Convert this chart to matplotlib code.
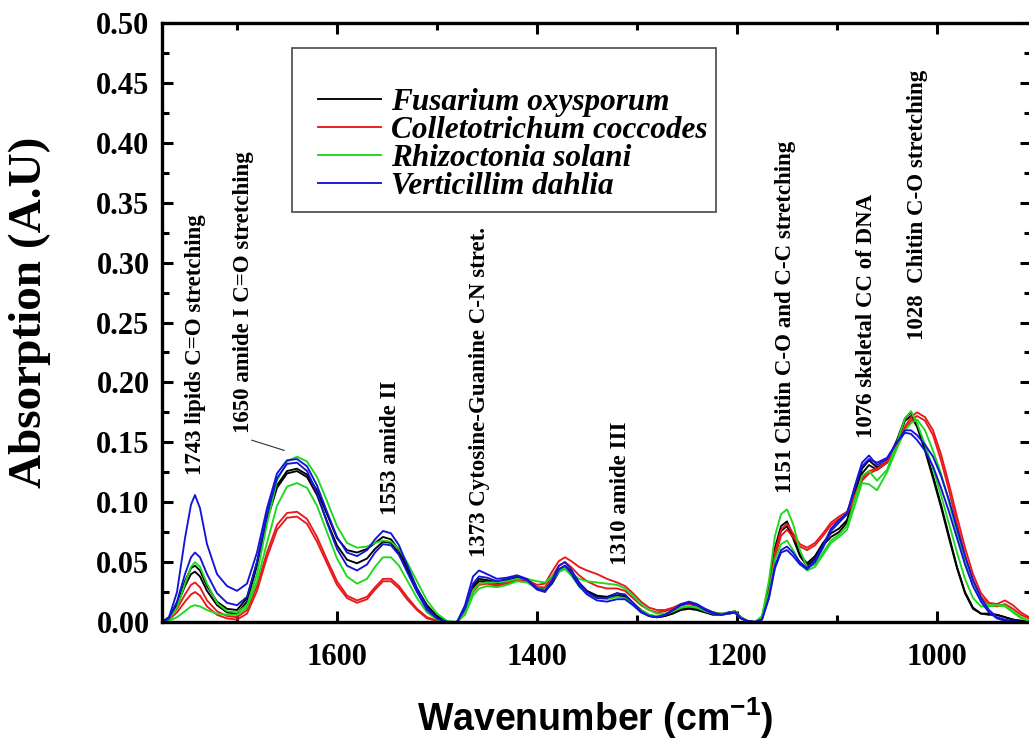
import matplotlib
matplotlib.use("Agg")
import matplotlib.pyplot as plt
from matplotlib.ticker import MultipleLocator
from matplotlib.patches import Rectangle

# ---------------- data ----------------
wavenumber = [
    1775, 1768, 1760, 1752, 1746, 1742, 1737, 1730, 1720, 1710, 1700, 1690, 1680, 1670, 1660, 1650, 1640, 1630,
    1620, 1610, 1600, 1590, 1580, 1570, 1562, 1554, 1546, 1538, 1530, 1520, 1510, 1500, 1490, 1480,
    1472, 1464, 1458, 1450, 1440, 1430, 1420, 1410, 1400, 1392, 1385, 1378, 1372, 1366, 1358, 1350, 1340, 1330,
    1320, 1312, 1304, 1296, 1288, 1280, 1272, 1264, 1256, 1248, 1240, 1232, 1224, 1216, 1208, 1202, 1196, 1190, 1182,
    1175, 1168, 1162, 1156, 1150, 1144, 1137, 1130, 1122, 1114, 1106, 1098, 1090, 1082, 1075, 1068, 1060, 1050,
    1040, 1032, 1026, 1020, 1012, 1004, 996, 988, 980, 972, 964, 956, 948, 940, 932, 924, 916, 908,
]

fusarium_1 = [
    0, .004, .016, .034, .045, .047, .043, .030, .017, .011, .010, .020, .050, .087, .114, .126, .128, .123,
    .110, .090, .070, .060, .058, .061, .066, .071, .069, .060, .046, .028, .014, .005, 0, 0,
    .010, .030, .036, .035, .033, .035, .037, .035, .029, .027, .034, .044, .047, .042, .033, .026, .022, .021,
    .024, .022, .016, .010, .006, .004, .005, .008, .011, .012, .011, .009, .007, .006, .008, .009, .004, .001, 0,
    .004, .030, .062, .080, .084, .072, .056, .049, .055, .066, .074, .078, .085, .108, .128, .135, .129, .134,
    .152, .170, .175, .165, .145, .122, .098, .072, .046, .025, .012, .007, .007, .006, .004, .002, .001, 0,
]
fusarium_2 = [
    0, .003, .014, .030, .040, .042, .038, .026, .014, .008, .007, .017, .047, .085, .112, .124, .126, .121,
    .106, .084, .064, .052, .049, .053, .061, .067, .066, .057, .043, .026, .012, .004, 0, 0,
    .009, .028, .034, .034, .032, .034, .036, .034, .028, .026, .032, .042, .045, .040, .031, .025, .021, .020,
    .022, .021, .015, .009, .005, .004, .005, .007, .010, .011, .010, .008, .006, .006, .008, .008, .003, .001, 0,
    .003, .027, .058, .076, .080, .070, .055, .047, .053, .064, .071, .075, .083, .105, .124, .131, .127, .133,
    .150, .168, .172, .163, .143, .120, .096, .070, .045, .024, .011, .007, .006, .006, .004, .002, .001, 0,
]
colletotrichum_1 = [
    0, .003, .011, .023, .031, .033, .029, .018, .009, .005, .004, .010, .030, .058, .081, .091, .092, .086,
    .071, .052, .034, .022, .018, .021, .029, .036, .036, .030, .021, .011, .004, .001, 0, 0,
    .009, .027, .032, .033, .031, .033, .036, .035, .031, .032, .042, .051, .054, .051, .046, .043, .040, .036,
    .033, .030, .024, .017, .012, .010, .010, .012, .015, .016, .014, .011, .008, .007, .007, .008, .004, .001, 0,
    .003, .026, .058, .077, .082, .074, .065, .062, .066, .074, .083, .088, .092, .106, .120, .126, .128, .134,
    .148, .163, .171, .175, .171, .160, .140, .115, .088, .062, .040, .024, .016, .015, .018, .014, .008, .004,
]
colletotrichum_2 = [
    0, .002, .008, .017, .023, .025, .022, .013, .006, .003, .002, .007, .026, .054, .077, .087, .088, .082,
    .067, .049, .031, .020, .016, .019, .027, .034, .034, .028, .019, .010, .003, .001, 0, 0,
    .008, .025, .031, .032, .030, .032, .035, .034, .029, .029, .038, .047, .050, .046, .039, .034, .030, .028,
    .028, .026, .020, .014, .010, .008, .009, .011, .014, .015, .013, .010, .008, .006, .007, .008, .003, .001, 0,
    .003, .024, .054, .072, .077, .071, .063, .060, .064, .072, .081, .086, .090, .104, .118, .124, .127, .133,
    .146, .161, .168, .172, .168, .156, .135, .110, .082, .056, .035, .021, .014, .013, .015, .011, .006, .003,
]
rhizoctonia_1 = [
    0, .002, .012, .032, .046, .050, .046, .032, .016, .009, .008, .014, .040, .082, .118, .134, .138, .134,
    .121, .101, .080, .066, .062, .063, .066, .068, .067, .061, .050, .034, .018, .007, .001, 0,
    .008, .026, .032, .033, .033, .034, .036, .036, .034, .033, .038, .044, .045, .041, .036, .034, .033, .032,
    .031, .028, .022, .015, .010, .007, .007, .009, .012, .013, .012, .010, .008, .007, .008, .009, .004, .001, 0,
    .005, .035, .072, .090, .094, .082, .060, .046, .048, .058, .068, .073, .080, .103, .122, .126, .118, .127,
    .150, .170, .176, .166, .148, .128, .106, .082, .058, .036, .020, .013, .013, .014, .013, .008, .003, .001,
]
rhizoctonia_2 = [
    0, .001, .004, .009, .013, .014, .013, .010, .007, .006, .006, .012, .034, .066, .097, .113, .116, .112,
    .097, .075, .053, .038, .032, .036, .046, .054, .054, .047, .035, .020, .008, .002, 0, 0,
    .006, .022, .028, .030, .029, .031, .034, .033, .028, .027, .034, .042, .044, .039, .030, .024, .020, .019,
    .021, .020, .015, .010, .006, .005, .006, .009, .012, .013, .012, .009, .007, .006, .007, .008, .003, .001, 0,
    .003, .024, .052, .065, .068, .060, .049, .043, .046, .056, .066, .071, .077, .098, .116, .115, .110, .125,
    .145, .160, .166, .169, .160, .143, .124, .100, .074, .050, .030, .018, .014, .014, .014, .009, .004, .001,
]
verticillium_1 = [
    0, .004, .025, .070, .098, .106, .095, .065, .040, .030, .026, .032, .058, .095, .124, .135, .136, .130,
    .114, .092, .071, .058, .055, .060, .069, .076, .074, .064, .048, .028, .012, .003, 0, 0,
    .014, .038, .043, .040, .036, .037, .039, .036, .028, .026, .035, .047, .050, .044, .033, .025, .020, .020,
    .024, .023, .016, .009, .005, .004, .006, .010, .015, .017, .015, .011, .008, .006, .008, .008, .003, .001, 0,
    .002, .020, .045, .058, .060, .055, .048, .044, .050, .062, .076, .083, .090, .114, .133, .139, .131, .136,
    .150, .158, .157, .152, .143, .130, .112, .092, .070, .048, .030, .017, .008, .003, .001, 0, 0, 0,
]
verticillium_2 = [
    0, .003, .017, .040, .054, .058, .054, .040, .024, .016, .014, .021, .050, .090, .120, .132, .133, .126,
    .108, .083, .061, .047, .043, .048, .058, .065, .064, .056, .042, .025, .010, .003, 0, 0,
    .011, .032, .038, .037, .034, .036, .038, .035, .027, .025, .033, .044, .047, .041, .030, .023, .018, .017,
    .019, .019, .014, .008, .005, .004, .006, .010, .014, .016, .014, .010, .007, .006, .007, .008, .003, .001, 0,
    .002, .021, .047, .060, .063, .058, .050, .045, .052, .064, .078, .085, .091, .112, .130, .136, .133, .137,
    .150, .160, .160, .156, .148, .138, .122, .102, .078, .055, .035, .020, .010, .004, .002, .001, 0, 0,
]

species = ["Fusarium oxysporum", "Colletotrichum coccodes", "Rhizoctonia solani", "Verticillim dahlia"]
species_colors = ["#000000", "#e8191c", "#1ed81e", "#1414d8"]
replicates = [
    [fusarium_1, fusarium_2],
    [colletotrichum_1, colletotrichum_2],
    [rhizoctonia_1, rhizoctonia_2],
    [verticillium_1, verticillium_2],
]

band_labels = [
    "1743 lipids C=O stretching",
    "1650 amide I C=O stretching",
    "1553 amide II",
    "1373 Cytosine-Guanine C-N stret.",
    "1310 amide III",
    "1151 Chitin C-O and C-C stretching",
    "1076 skeletal CC of DNA",
    "1028  Chitin C-O stretching",
]
band_label_x = [1742, 1694, 1547, 1457, 1317, 1152, 1070, 1020]
band_label_y = [0.1225, 0.1575, 0.089, 0.054, 0.0475, 0.108, 0.154, 0.235]

x_ticks = [1600, 1400, 1200, 1000]
y_ticks = [0.00, 0.05, 0.10, 0.15, 0.20, 0.25, 0.30, 0.35, 0.40, 0.45, 0.50]

for s in replicates:
    for r in s:
        assert len(r) == len(wavenumber)

# ---------------- figure ----------------
plt.rcParams["mathtext.fontset"] = "custom"
plt.rcParams["mathtext.bf"] = "Liberation Sans:bold"
plt.rcParams["mathtext.rm"] = "Liberation Sans:bold"
plt.rcParams["mathtext.default"] = "bf"

W, H = 1029, 740
fig = plt.figure(figsize=(W / 100, H / 100), dpi=100)
left_px, right_px, top_px, bottom_px = 162, 1031, 23, 622
ax = fig.add_axes([left_px / W, (H - bottom_px) / H, (right_px - left_px) / W, (bottom_px - top_px) / H])

for name, color, reps in zip(species, species_colors, replicates):
    for i, r in enumerate(reps):
        ax.plot(wavenumber, r, color=color, lw=1.35, label=name if i == 0 else None,
                solid_joinstyle="round")

ax.set_xlim(1775, 906)
ax.set_ylim(0, 0.5)
ax.set_xticks(x_ticks)
ax.xaxis.set_minor_locator(MultipleLocator(100))
ax.set_yticks(y_ticks)
ax.yaxis.set_minor_locator(MultipleLocator(0.025))
ax.set_yticklabels([f"{v:.2f}" for v in y_ticks])

for sp in ax.spines.values():
    sp.set_linewidth(2.4)
ax.tick_params(which="both", direction="in", top=True, right=True, width=2.2)
ax.tick_params(which="major", length=8)
ax.tick_params(which="minor", length=5)
ax.tick_params(axis="y", which="major", pad=9)
ax.tick_params(axis="x", which="major", pad=15)
for lab in ax.get_xticklabels() + ax.get_yticklabels():
    lab.set_fontfamily("Liberation Serif")
    lab.set_fontweight("bold")
    lab.set_fontsize(22)

fig.text(30 / W, 1 - 312 / H, "Absorption (A.U)", rotation=90, ha="center", va="center",
         fontfamily="Liberation Serif", fontweight="bold", fontsize=34)
fig.text(595 / W, 1 - 718 / H, r"Wavenumber (cm$^{-1}$)", ha="center", va="center",
         fontfamily="Liberation Sans", fontweight="bold", fontsize=27)

for txt, bx, by in zip(band_labels, band_label_x, band_label_y):
    ax.text(bx, by, txt, rotation=90, ha="center", va="bottom",
            fontfamily="Liberation Serif", fontweight="bold", fontsize=16.5)
ax.annotate("", xy=(1650, 0.1425), xytext=(1688, 0.1525),
            arrowprops=dict(arrowstyle="-", lw=0.8, color="#333333"))

# legend: frameless entries plus a separate box matching the reference frame
leg = ax.legend(loc="upper left",
                bbox_to_anchor=(318 / W, 1 - 88 / H), bbox_transform=fig.transFigure,
                prop={"family": "Liberation Serif", "weight": "bold", "style": "italic", "size": 22.5},
                handlelength=2.0, handletextpad=0.35, labelspacing=-0.03,
                borderpad=0, borderaxespad=0, frameon=False)
fig.add_artist(Rectangle((292 / W, 1 - 212 / H), (716 - 292) / W, (212 - 48) / H,
                         transform=fig.transFigure, fill=False, edgecolor="#555555", lw=1.3))

fig.savefig("out.png", dpi=100)
